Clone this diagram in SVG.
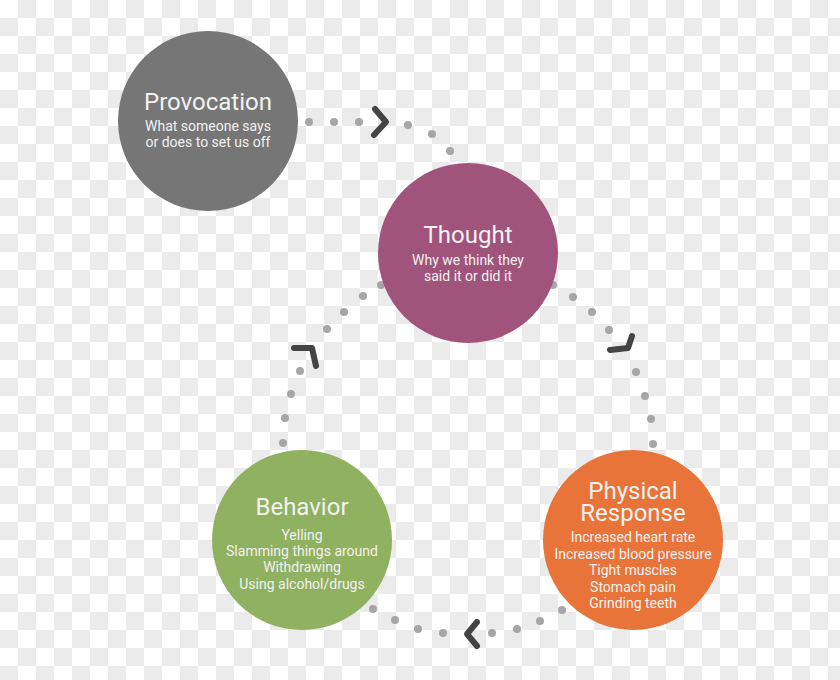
<svg xmlns="http://www.w3.org/2000/svg" width="840" height="680" viewBox="0 0 840 680">
<defs>
<pattern id="cb" width="36" height="36" patternUnits="userSpaceOnUse">
<rect width="36" height="36" fill="#ffffff"/>
<rect x="18" y="0" width="18" height="18" fill="#ebebeb"/>
<rect x="0" y="18" width="18" height="18" fill="#ebebeb"/>
</pattern>
<style>
.dot{fill:#a6a6a6}
.chev{fill:none;stroke:#444444;stroke-width:6;stroke-linecap:round;stroke-linejoin:round}
.t{font-family:Roboto,"Liberation Sans",sans-serif;fill:#f2f2f2;text-anchor:middle}
.h{font-size:24px}
.s{font-size:14px}
</style>
</defs>
<rect width="840" height="680" fill="url(#cb)"/>
<g id="connectors">
<circle class="dot" cx="309" cy="122" r="4"/>
<circle class="dot" cx="334" cy="122" r="4"/>
<circle class="dot" cx="359" cy="122" r="4"/>
<path class="chev" d="M375,109 L386,122 L374,135"/>
<circle class="dot" cx="408" cy="125" r="4"/>
<circle class="dot" cx="432" cy="134" r="4"/>
<circle class="dot" cx="450" cy="151" r="4"/>
<circle class="dot" cx="553" cy="285" r="4"/>
<circle class="dot" cx="573" cy="297" r="4"/>
<circle class="dot" cx="592" cy="312" r="4"/>
<circle class="dot" cx="609" cy="330" r="4"/>
<path class="chev" d="M632,336 L628,348 L610,350"/>
<circle class="dot" cx="636" cy="372" r="4"/>
<circle class="dot" cx="645" cy="396" r="4"/>
<circle class="dot" cx="651" cy="419" r="4"/>
<circle class="dot" cx="653" cy="444" r="4"/>
<circle class="dot" cx="562" cy="610" r="4"/>
<circle class="dot" cx="540" cy="621" r="4"/>
<circle class="dot" cx="517" cy="629" r="4"/>
<circle class="dot" cx="492" cy="633" r="4"/>
<path class="chev" d="M477,622 L467,634 L477,646"/>
<circle class="dot" cx="443" cy="633" r="4"/>
<circle class="dot" cx="418" cy="629" r="4"/>
<circle class="dot" cx="395" cy="620" r="4"/>
<circle class="dot" cx="373" cy="609" r="4"/>
<circle class="dot" cx="283" cy="443" r="4"/>
<circle class="dot" cx="285" cy="418" r="4"/>
<circle class="dot" cx="291" cy="394" r="4"/>
<circle class="dot" cx="300" cy="371" r="4"/>
<path class="chev" d="M294,348 L312,348 L316,366"/>
<circle class="dot" cx="327" cy="329" r="4"/>
<circle class="dot" cx="344" cy="312" r="4"/>
<circle class="dot" cx="363" cy="296" r="4"/>
<circle class="dot" cx="381" cy="285" r="4"/>
</g>
<g id="provocation">
<circle cx="208" cy="121" r="90" fill="#767676"/>
<text class="t h" x="208" y="110">Provocation</text>
<text class="t s" x="208" y="131">What someone says</text>
<text class="t s" x="208" y="147">or does to set us off</text>
</g>
<g id="thought">
<circle cx="468" cy="253" r="90" fill="#a0537b"/>
<text class="t h" x="468" y="243">Thought</text>
<text class="t s" x="468" y="265">Why we think they</text>
<text class="t s" x="468" y="281">said it or did it</text>
</g>
<g id="behavior">
<circle cx="302" cy="540" r="90" fill="#8fb160"/>
<text class="t h" x="302" y="515">Behavior</text>
<text class="t s" x="302" y="540">Yelling</text>
<text class="t s" x="302" y="556">Slamming things around</text>
<text class="t s" x="302" y="572">Withdrawing</text>
<text class="t s" x="302" y="589">Using alcohol/drugs</text>
</g>
<g id="physical">
<circle cx="633" cy="540" r="90" fill="#e8743a"/>
<text class="t h" x="633" y="499">Physical</text>
<text class="t h" x="633" y="521">Response</text>
<text class="t s" x="633" y="542">Increased heart rate</text>
<text class="t s" x="633" y="559">Increased blood pressure</text>
<text class="t s" x="633" y="575">Tight muscles</text>
<text class="t s" x="633" y="592">Stomach pain</text>
<text class="t s" x="633" y="608">Grinding teeth</text>
</g>
</svg>
